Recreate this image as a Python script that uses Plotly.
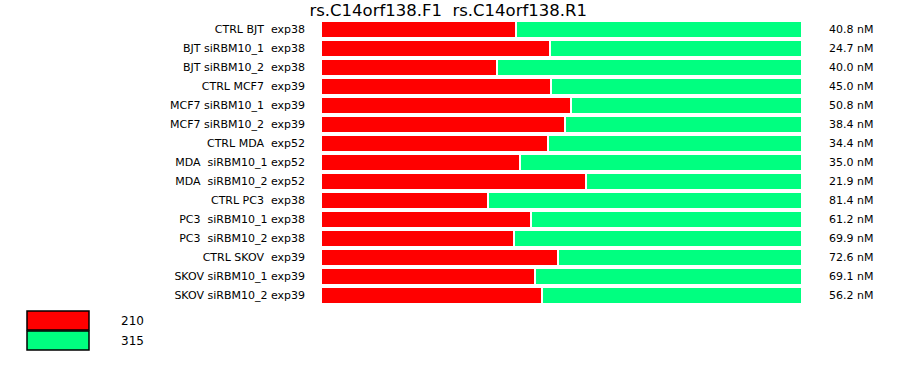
import plotly.graph_objects as go

NB = "\u00a0"
categories = [
    "CTRL BJT  exp38", "BJT siRBM10_1  exp38", "BJT siRBM10_2  exp38",
    "CTRL MCF7  exp39", "MCF7 siRBM10_1  exp39", "MCF7 siRBM10_2  exp39",
    "CTRL MDA  exp52", "MDA  siRBM10_1 exp52", "MDA  siRBM10_2 exp52",
    "CTRL PC3  exp38", "PC3  siRBM10_1 exp38", "PC3  siRBM10_2 exp38",
    "CTRL SKOV  exp39", "SKOV siRBM10_1 exp39", "SKOV siRBM10_2 exp39",
]
red_210 = [0.405, 0.476, 0.366, 0.478, 0.520, 0.507, 0.472, 0.414, 0.551,
           0.347, 0.437, 0.401, 0.493, 0.445, 0.459]
green_315 = [round(1 - v, 3) for v in red_210]
conc_labels = ["40.8 nM", "24.7 nM", "40.0 nM", "45.0 nM", "50.8 nM", "38.4 nM",
               "34.4 nM", "35.0 nM", "21.9 nM", "81.4 nM", "61.2 nM", "69.9 nM",
               "72.6 nM", "69.1 nM", "56.2 nM"]
series_names = ["210", "315"]
colors = ["#ff0000", "#00ff80"]
title_text = "rs.C14orf138.F1" + NB * 2 + "rs.C14orf138.R1"

FONT = "DejaVu Sans"
labels_disp = [c.replace(" ", NB) for c in categories]

fig = go.Figure()
for name, vals, col in zip(series_names, [red_210, green_315], colors):
    fig.add_trace(go.Bar(
        y=labels_disp, x=vals, orientation="h", name=name,
        marker=dict(color=col, line=dict(color="white", width=2)),
        hoverinfo="x+y+name",
    ))

for lab, c in zip(labels_disp, conc_labels):
    fig.add_annotation(x=1, y=lab, xref="paper", yref="y", text=c.replace(" ", NB),
                       showarrow=False, xanchor="left", xshift=25,
                       font=dict(family=FONT, size=11, color="#000"))

# legend built from shapes
for i, (name, col) in enumerate(zip(series_names, colors)):
    y0 = 311 + i * 20
    fig.add_shape(type="rect", xref="paper", yref="paper",
                  x0=(27 - 321) / 481, x1=(89 - 321) / 481,
                  y0=(305 - y0) / 285, y1=(305 - y0 - 19) / 285,
                  fillcolor=col, line=dict(color="black", width=1.5))
    fig.add_annotation(xref="paper", yref="paper", x=(119 - 321) / 481,
                       y=(305 - y0 - 10) / 285, text=name, showarrow=False,
                       xanchor="left", yanchor="middle",
                       font=dict(family=FONT, size=12, color="#000"))

fig.update_layout(
    width=900, height=375,
    margin=dict(l=321, r=98, t=20, b=70, pad=0),
    barmode="stack", bargap=0.11,
    plot_bgcolor="white", paper_bgcolor="white",
    showlegend=False,
    title=dict(text=title_text, x=0.498, xanchor="center", y=0.972, yanchor="middle",
               font=dict(family=FONT, size=16.5, color="#000")),
    xaxis=dict(range=[0, 1], visible=False, fixedrange=True),
    yaxis=dict(autorange="reversed", showgrid=False, showline=False, zeroline=False,
               ticks="", ticklabelstandoff=15,
               tickfont=dict(family=FONT, size=11, color="#000")),
    font=dict(family=FONT),
)

fig.write_html("out.html")
